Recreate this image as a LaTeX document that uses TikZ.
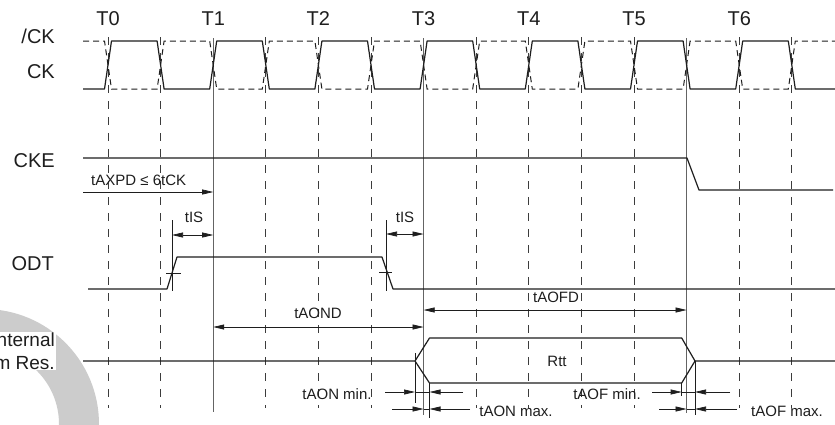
\documentclass[tikz,border=0pt]{standalone}
\usepackage{fontspec}
\setmainfont{Liberation Sans}
\usetikzlibrary{arrows.meta}
\definecolor{ink}{RGB}{30,30,30}
\definecolor{ringgray}{RGB}{204,204,204}
\definecolor{gridgray}{RGB}{60,60,60}
\definecolor{refgray}{RGB}{100,100,100}
\begin{document}
\begin{tikzpicture}[x=1pt,y=-1pt,
  sig/.style={line width=1.2pt,draw=ink,line join=round},
  csig/.style={line width=1pt,draw=ink,dash pattern=on 6pt off 4pt},
  gridline/.style={line width=0.7pt,draw=gridgray,dash pattern=on 8pt off 8pt},
  refline/.style={line width=0.9pt,draw=refgray},
  tickline/.style={line width=0.7pt,draw=ink},
  dimline/.style={line width=0.7pt,draw=ink},
  dim/.style={line width=0.7pt,draw=ink,-{Triangle[length=11pt,width=5pt]}},
  dimboth/.style={line width=0.7pt,draw=ink,{Triangle[length=11pt,width=5pt]}-{Triangle[length=11pt,width=5pt]}},
  big/.style={font=\fontsize{20}{24}\selectfont,text=ink,inner sep=0pt},
  wm/.style={font=\fontsize{19}{23}\selectfont,text=ink},
  small/.style={font=\fontsize{15}{17}\selectfont,text=ink,inner sep=0pt}]
\useasboundingbox (0,0) rectangle (835,424);
\fill[white] (0,0) rectangle (835,424);
% watermark ring
\fill[ringgray,even odd rule] (-16,424) circle (115) (-16,424) circle (75);
\node[wm,align=right,anchor=east,fill=white,inner sep=1pt] (itr) at (56,351) {Internal\\Term Res.};

% time labels
\foreach \i/\x in {0/108,1/213.2,2/318.4,3/423.6,4/528.8,5/634,6/739.2}
  \node[big] (T\i) at (\x,19) {T\i};
% signal names
\node[big,anchor=east] (nck) at (55,36) {/CK};
\node[big,anchor=east] (ck) at (55,72) {CK};
\node[big,anchor=east] (cke) at (55,161) {CKE};
\node[big,anchor=east] (odt) at (54,264) {ODT};

% dashed grid
\foreach \x in {108,160.6,265.8,318.4,371,476.2,528.8,581.4,634,739.2,791.8}
  \draw[gridline] (\x,37) -- (\x,408);
% solid reference lines
\coordinate (r1) at (213.2,38);
\coordinate (r1b) at (213.2,412);
\coordinate (r3) at (423.6,38);
\coordinate (r3b) at (423.6,415);
\coordinate (r5) at (686.6,38);
\coordinate (r5b) at (686.6,413);
\draw[refline] (r1) -- (r1b);
\draw[refline] (r3) -- (r3b);
\draw[refline] (r5) -- (r5b);

% clocks
\draw[sig] (83,89) -- (104.5,89) -- (111.5,41) -- (157.1,41) -- (164.1,89) -- (209.7,89) -- (216.7,41) -- (262.3,41) -- (269.3,89) -- (314.9,89) -- (321.9,41) -- (367.5,41) -- (374.5,89) -- (420.1,89) -- (427.1,41) -- (472.7,41) -- (479.7,89) -- (525.3,89) -- (532.3,41) -- (577.9,41) -- (584.9,89) -- (630.5,89) -- (637.5,41) -- (683.1,41) -- (690.1,89) -- (735.7,89) -- (742.7,41) -- (788.3,41) -- (795.3,89) -- (835,89);
\draw[csig] (83,41) -- (104.5,41) -- (111.5,89) -- (157.1,89) -- (164.1,41) -- (209.7,41) -- (216.7,89) -- (262.3,89) -- (269.3,41) -- (314.9,41) -- (321.9,89) -- (367.5,89) -- (374.5,41) -- (420.1,41) -- (427.1,89) -- (472.7,89) -- (479.7,41) -- (525.3,41) -- (532.3,89) -- (577.9,89) -- (584.9,41) -- (630.5,41) -- (637.5,89) -- (683.1,89) -- (690.1,41) -- (735.7,41) -- (742.7,89) -- (788.3,89) -- (795.3,41) -- (835,41);

% CKE
\draw[sig] (83,158) -- (687,158) -- (699,190) -- (833,190);
% tAXPD
\coordinate (axA) at (83,192);
\coordinate (axB) at (213.2,192);
\draw[dim] (axA) -- (axB);
\node[small,anchor=west] (laxpd) at (91,180) {tAXPD ≤ 6tCK};

% ODT
\draw[sig] (88,289) -- (167,289) -- (177,257) -- (382,257) -- (393,289) -- (835,289);
\coordinate (is1a) at (172,220);
\coordinate (is1b) at (172,291);
\draw[tickline] (is1a) -- (is1b);
\draw[tickline] (166,273) -- (181,273);
\coordinate (is1L) at (172,235);
\coordinate (is1R) at (213.2,235);
\draw[dimboth] (is1L) -- (is1R);
\node[small] (lis1) at (194,217) {tIS};

\coordinate (is2a) at (386,220);
\coordinate (is2b) at (386,291);
\draw[tickline] (is2a) -- (is2b);
\draw[tickline] (379,272) -- (392,272);
\coordinate (is2L) at (386,234);
\coordinate (is2R) at (423.6,234);
\draw[dimboth] (is2L) -- (is2R);
\node[small] (lis2) at (405,217) {tIS};

% tAOND / tAOFD
\coordinate (aondL) at (213.2,327);
\coordinate (aondR) at (423.6,327);
\draw[dimboth] (aondL) -- (aondR);
\node[small] (laond) at (318,313) {tAOND};
\coordinate (aofdL) at (423.6,310);
\coordinate (aofdR) at (686.6,310);
\draw[dimboth] (aofdL) -- (aofdR);
\node[small] (laofd) at (556,297) {tAOFD};

% Rtt
\draw[sig] (83,361) -- (415,361) -- (429.5,338) -- (681.7,338) -- (695,361) -- (835,361);
\draw[sig] (415,361) -- (429.5,383) -- (681.7,383) -- (695,361);
\node[small] (rtt) at (557,361) {Rtt};

% tick lines for tAON / tAOF
\draw[tickline] (415,353) -- (415,403);
\draw[tickline] (429.5,383) -- (429.5,418);
\draw[tickline] (681.7,383) -- (681.7,396);
\draw[tickline] (695,361) -- (695,415);

% tAON min
\coordinate (anminA) at (385,392);
\coordinate (anminB) at (415,392);
\coordinate (anminC) at (429.5,392);
\coordinate (anminD) at (463,392);
\draw[dimline] (anminB) -- (anminC);
\draw[dim] (anminA) -- (anminB);
\draw[dim] (anminD) -- (anminC);
\node[small] (lanmin) at (337,394) {tAON min.};
% tAON max
\coordinate (anmaxA) at (392,409);
\coordinate (anmaxB) at (423.6,409);
\coordinate (anmaxC) at (429.5,409);
\coordinate (anmaxD) at (470,409);
\draw[dimline] (anmaxB) -- (anmaxC);
\draw[dim] (anmaxA) -- (anmaxB);
\draw[dim] (anmaxD) -- (anmaxC);
\node[small] (lanmax) at (516,411) {tAON max.};
% tAOF min
\coordinate (afminA) at (652,392);
\coordinate (afminB) at (681.7,392);
\coordinate (afminC) at (695,392);
\coordinate (afminD) at (730,392);
\draw[dimline] (afminB) -- (afminC);
\draw[dim] (afminA) -- (afminB);
\draw[dim] (afminD) -- (afminC);
\node[small] (lafmin) at (607,394) {tAOF min.};
% tAOF max
\coordinate (afmaxA) at (659,409);
\coordinate (afmaxB) at (686.6,409);
\coordinate (afmaxC) at (695,409);
\coordinate (afmaxD) at (737,409);
\draw[dimline] (afmaxB) -- (afmaxC);
\draw[dim] (afmaxA) -- (afmaxB);
\draw[dim] (afmaxD) -- (afmaxC);
\node[small] (lafmax) at (787,411) {tAOF max.};
\end{tikzpicture}
\end{document}
